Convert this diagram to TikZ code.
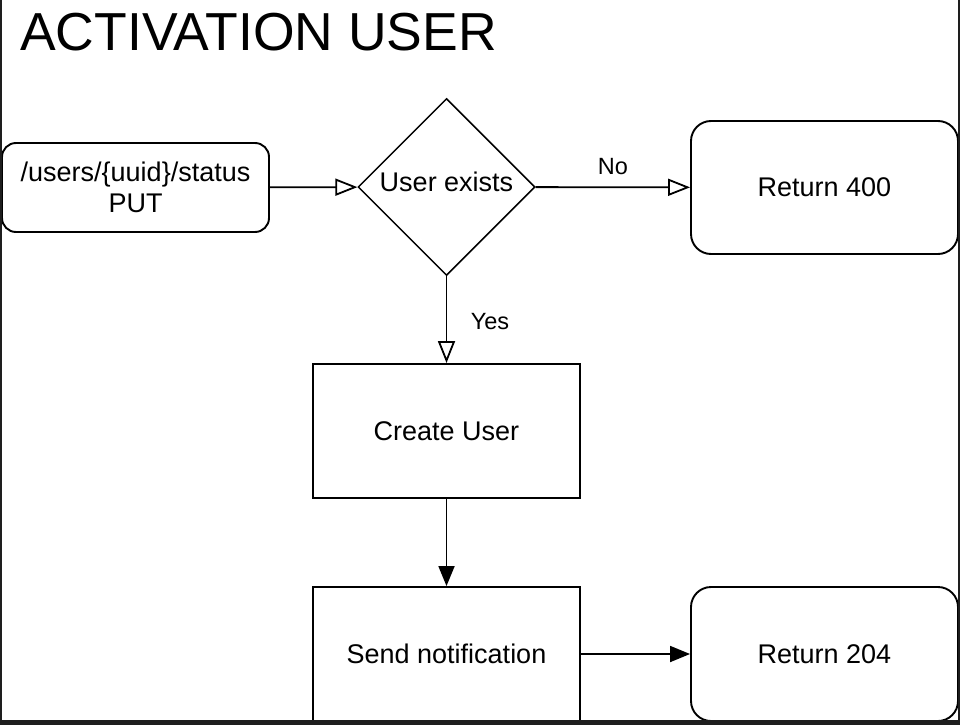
\documentclass[tikz,border=0pt]{standalone}
\usepackage{fontspec}
\setmainfont{Liberation Sans}
\usepackage{tikz}
\usetikzlibrary{shapes.geometric}
\usetikzlibrary{arrows.meta}
\usepackage{color}
\definecolor{framegray}{RGB}{30,30,30}

\tikzset{
  roundbox/.style={draw, line width=1.9pt, rounded corners=14pt, inner sep=0pt, minimum width=267pt, align=center},
  plainbox/.style={draw, line width=1.9pt, inner sep=0pt, minimum width=267pt, minimum height=134pt},
  decision/.style={draw, diamond, line width=1.5pt, inner sep=0pt, minimum width=177pt, minimum height=177pt},
  openarrow/.style={line width=1.8pt, -{Triangle[open, length=22pt, width=17pt]}},
  fullarrow/.style={line width=1.8pt, -{Triangle[length=20pt, width=16pt]}},
  lbl/.style={font=\fontsize{23.5}{27}\selectfont}
}

\begin{document}
\begin{tikzpicture}[x=1pt, y=-1pt, font=\fontsize{27}{31}\selectfont]
\useasboundingbox (0, 0) rectangle (960, 725);

% title
\node [anchor=base west, inner sep=0pt, font=\fontsize{53.5}{60}\selectfont] (title) at (20, 51) {ACTIVATION USER};

% top row
\node [roundbox, minimum height=89pt] (request) at (135.5, 187.5) {/users/\{uuid\}/status\\PUT};
\node [decision] (exists) at (446.5, 187) {};
\node (existstext) at (446.5, 182) {User exists};
\node [roundbox, minimum height=133pt, rounded corners=20pt] (bad) at (824.5, 187.5) {Return 400};
\draw [openarrow] (request) -- (exists);
\draw [openarrow] (exists) -- (bad);
\node [lbl] (no) at (613, 167) {No};

% middle and bottom
\node [plainbox] (create) at (446.5, 431) {Create User};
\node [plainbox] (notify) at (446.5, 654) {Send notification};
\node [roundbox, minimum height=134pt, rounded corners=20pt] (ok) at (824.5, 654) {Return 204};
\draw [openarrow] (exists) -- (create);
\node [lbl] (yes) at (490, 322) {Yes};
\draw [fullarrow] (create) -- (notify);
\draw [fullarrow] (notify) -- (ok);

% frame
\fill [framegray] (0, 0) rectangle (2, 725);
\fill [framegray] (958, 0) rectangle (960, 725);
\fill [framegray] (0, 720) rectangle (960, 725);

\end{tikzpicture}
\end{document}
